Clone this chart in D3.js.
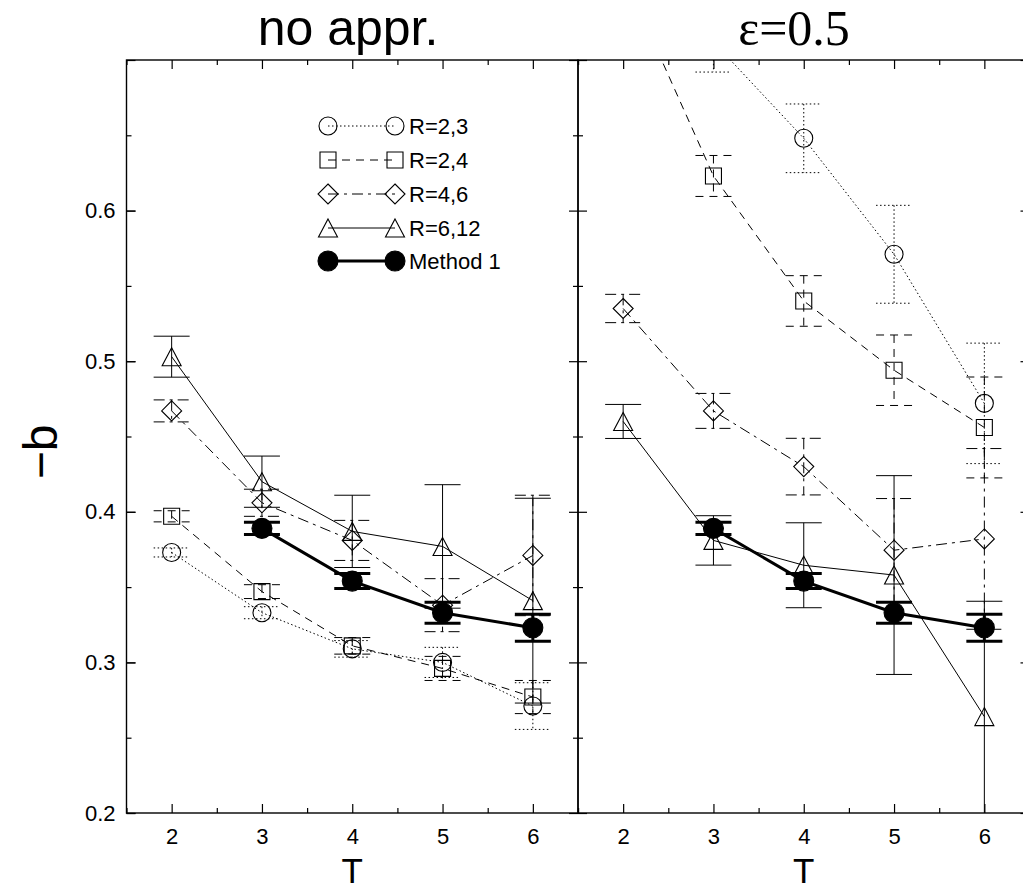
<!DOCTYPE html>
<html>
<head>
<meta charset="utf-8">
<script src="https://cdn.jsdelivr.net/npm/d3@7"></script>
<style>
    body { margin: 0; background: #fff; }
    svg { display: block; }
    text { font-family: "Liberation Sans", Arial, Helvetica, sans-serif; fill: #000; }
</style>
</head>
<body>
<div id="chart"></div>
<script>
// T values on the x axis
const tValues = [2, 3, 4, 5, 6];
const seriesNames = ["R=2,3", "R=2,4", "R=4,6", "R=6,12", "Method 1"];
const yTickValues = [0.2, 0.3, 0.4, 0.5, 0.6];
const panelTitles = ["no appr.", "\u03b5=0.5"];

// panel 1: no appr.
const noApprR23 = [0.373, 0.333, 0.309, 0.300, 0.271];
const noApprR23Err = [0.003, 0.004, 0.0055, 0.010, 0.0155];
const noApprR24 = [0.397, 0.347, 0.311, 0.296, 0.277];
const noApprR24Err = [0.0037, 0.0046, 0.0055, 0.008, 0.011];
const noApprR46 = [0.467, 0.406, 0.381, 0.338, 0.371];
const noApprR46Err = [0.0073, 0.009, 0.0133, 0.0176, 0.040];
const noApprR612 = [0.503, 0.420, 0.387, 0.377, 0.341];
const noApprR612Err = [0.0136, 0.017, 0.024, 0.041, 0.068];
const noApprMethod1 = [null, 0.389, 0.354, 0.333, 0.323];
const noApprMethod1Err = [null, 0.004, 0.005, 0.007, 0.009];

// panel 2: eps = 0.5
const epsR23 = [null, 0.712, 0.648, 0.571, 0.472];
const epsR23Err = [null, 0.02, 0.0228, 0.0325, 0.040];
const epsR24 = [0.757, 0.623, 0.540, 0.494, 0.456];
const epsR24Err = [0.01, 0.0136, 0.0168, 0.0234, 0.0335];
const epsR46 = [0.535, 0.467, 0.430, 0.3745, 0.382];
const epsR46Err = [0.0094, 0.0116, 0.0188, 0.0343, 0.060];
const epsR612 = [0.460, 0.381, 0.3645, 0.358, 0.264];
const epsR612Err = [0.0113, 0.0164, 0.0282, 0.066, 0.0766];
const epsMethod1 = [null, 0.389, 0.354, 0.333, 0.323];
const epsMethod1Err = [null, 0.004, 0.005, 0.007, 0.009];

const width = 1023, height = 890;
const plotTop = 60, plotBottom = 813;
const panelLeft = [126.5, 578];
const panelWidth = 451.5;

// one style per series
const styles = [
    { shape: "circle", dash: "1.5,2.5", width: 1 },
    { shape: "square", dash: "8,6", width: 1 },
    { shape: "diamond", dash: "11,5,3,5", width: 1 },
    { shape: "triangle", dash: null, width: 1 },
    { shape: "dot", dash: null, width: 3 }
];

const panels = [
    { values: [noApprR23, noApprR24, noApprR46, noApprR612, noApprMethod1],
      errors: [noApprR23Err, noApprR24Err, noApprR46Err, noApprR612Err, noApprMethod1Err] },
    { values: [epsR23, epsR24, epsR46, epsR612, epsMethod1],
      errors: [epsR23Err, epsR24Err, epsR46Err, epsR612Err, epsMethod1Err] }
];

const yScale = d3.scaleLinear().domain([0.2, 0.7]).range([plotBottom, plotTop]);

const svg = d3.select("#chart").append("svg")
    .attr("width", width)
    .attr("height", height);

function markerPath(shape) {
    if (shape === "circle") return d3.symbol(d3.symbolCircle, Math.PI * 81)();
    if (shape === "dot") return d3.symbol(d3.symbolCircle, Math.PI * 100)();
    if (shape === "square") return "M-8,-8H8V8H-8Z";
    if (shape === "diamond") return "M0,-10L10,0L0,10L-10,0Z";
    if (shape === "triangle") return "M0,-9L9.5,9L-9.5,9Z";
}

function drawMarker(g, style, cx, cy) {
    g.append("path")
        .attr("d", markerPath(style.shape))
        .attr("transform", `translate(${cx},${cy})`)
        .attr("fill", style.shape === "dot" ? "#000" : "none")
        .attr("stroke", "#000")
        .attr("stroke-width", 1.1);
}

panels.forEach((panel, p) => {
    const x0 = panelLeft[p];
    const xScale = d3.scaleLinear().domain([1.5, 6.5]).range([x0, x0 + panelWidth]);
    const g = svg.append("g").attr("class", "panel");

    g.append("clipPath").attr("id", "clip" + p)
        .append("rect")
        .attr("x", x0).attr("y", plotTop)
        .attr("width", panelWidth).attr("height", plotBottom - plotTop);

    // axes, ticks pointing inward on all four sides
    const majorX = tValues, minorX = [1.5, 2.5, 3.5, 4.5, 5.5, 6.5];
    const majorY = [0.2, 0.3, 0.4, 0.5, 0.6, 0.7], minorY = [0.25, 0.35, 0.45, 0.55, 0.65];

    g.append("g").attr("transform", `translate(0,${plotBottom})`)
        .call(d3.axisBottom(xScale).tickValues(majorX).tickSize(-9).tickSizeOuter(0).tickPadding(15).tickFormat(d3.format("d")));
    g.append("g").attr("transform", `translate(0,${plotBottom})`)
        .call(d3.axisBottom(xScale).tickValues(minorX).tickSize(-5).tickSizeOuter(0).tickFormat(""));
    g.append("g").attr("transform", `translate(0,${plotTop})`)
        .call(d3.axisTop(xScale).tickValues(majorX).tickSize(-9).tickSizeOuter(0).tickFormat(""));
    g.append("g").attr("transform", `translate(0,${plotTop})`)
        .call(d3.axisTop(xScale).tickValues(minorX).tickSize(-5).tickSizeOuter(0).tickFormat(""));

    g.append("g").attr("transform", `translate(${x0},0)`)
        .call(d3.axisLeft(yScale).tickValues(p === 0 ? yTickValues : []).tickSize(-9).tickSizeOuter(0).tickPadding(11).tickFormat(d3.format(".1f")));
    g.append("g").attr("transform", `translate(${x0},0)`)
        .call(d3.axisLeft(yScale).tickValues(majorY).tickSize(-9).tickSizeOuter(0).tickFormat(""));
    g.append("g").attr("transform", `translate(${x0},0)`)
        .call(d3.axisLeft(yScale).tickValues(minorY).tickSize(-5).tickSizeOuter(0).tickFormat(""));
    g.append("g").attr("transform", `translate(${x0 + panelWidth},0)`)
        .call(d3.axisRight(yScale).tickValues(majorY).tickSize(-9).tickSizeOuter(0).tickFormat(""));
    g.append("g").attr("transform", `translate(${x0 + panelWidth},0)`)
        .call(d3.axisRight(yScale).tickValues(minorY).tickSize(-5).tickSizeOuter(0).tickFormat(""));

    g.selectAll(".domain").remove();
    g.selectAll(".tick line").attr("stroke", "#000").attr("stroke-width", 1.2);
    g.selectAll(".tick text")
        .style("font-family", '"Liberation Sans", Arial, sans-serif')
        .attr("font-size", 22)
        .attr("fill", "#000");

    g.append("rect")
        .attr("x", x0).attr("y", plotTop)
        .attr("width", panelWidth).attr("height", plotBottom - plotTop)
        .attr("fill", "none")
        .attr("stroke", "#000")
        .attr("stroke-width", 1.4);

    // x axis label
    g.append("text")
        .attr("x", xScale(4))
        .attr("y", 882.5)
        .attr("text-anchor", "middle")
        .attr("font-size", 35)
        .text("T");

    // panel title
    g.append("text")
        .attr("x", p === 0 ? 348 : 794)
        .attr("y", 45)
        .attr("text-anchor", "middle")
        .attr("font-size", 50)
        .style("font-family", p === 0 ? '"Liberation Sans", Arial, sans-serif' : '"Liberation Serif", "Times New Roman", serif')
        .text(panelTitles[p]);

    const plot = g.append("g").attr("clip-path", `url(#clip${p})`);

    panel.values.forEach((vals, s) => {
        const st = styles[s];
        const pts = tValues.map((t, i) => ({ t: t, v: vals[i], e: panel.errors[s][i] }))
            .filter(d => d.v != null);

        const line = d3.line().x(d => xScale(d.t)).y(d => yScale(d.v));
        plot.append("path")
            .attr("d", line(pts))
            .attr("fill", "none")
            .attr("stroke", "#000")
            .attr("stroke-width", st.width)
            .attr("stroke-dasharray", st.dash);

        const bars = plot.append("g");
        pts.forEach(d => {
            const cx = xScale(d.t);
            const yHi = yScale(d.v + d.e), yLo = yScale(d.v - d.e);
            bars.append("line")
                .attr("x1", cx).attr("x2", cx).attr("y1", yHi).attr("y2", yLo);
            [yHi, yLo].forEach(yy => {
                bars.append("line")
                    .attr("x1", cx - 18).attr("x2", cx + 18).attr("y1", yy).attr("y2", yy);
            });
        });
        bars.selectAll("line")
            .attr("stroke", "#000")
            .attr("stroke-width", st.width)
            .attr("stroke-dasharray", st.dash);

        pts.forEach(d => drawMarker(plot, st, xScale(d.t), yScale(d.v)));
    });
});

// y axis title
svg.append("text")
    .attr("transform", "translate(57,452) rotate(-90)")
    .attr("text-anchor", "middle")
    .attr("font-size", 48)
    .text("\u2212b");

// legend in the first panel
const legend = svg.append("g").attr("class", "legend");
const legendRows = [126, 160, 194, 228, 261];
seriesNames.forEach((name, s) => {
    const st = styles[s];
    const ly = legendRows[s];
    legend.append("line")
        .attr("x1", 328).attr("x2", 395).attr("y1", ly).attr("y2", ly)
        .attr("stroke", "#000")
        .attr("stroke-width", st.width)
        .attr("stroke-dasharray", st.dash);
    drawMarker(legend, st, 328, ly);
    drawMarker(legend, st, 395, ly);
    legend.append("text")
        .attr("x", 409)
        .attr("y", ly + 8)
        .attr("font-size", 22)
        .text(name);
});
</script>
</body>
</html>
